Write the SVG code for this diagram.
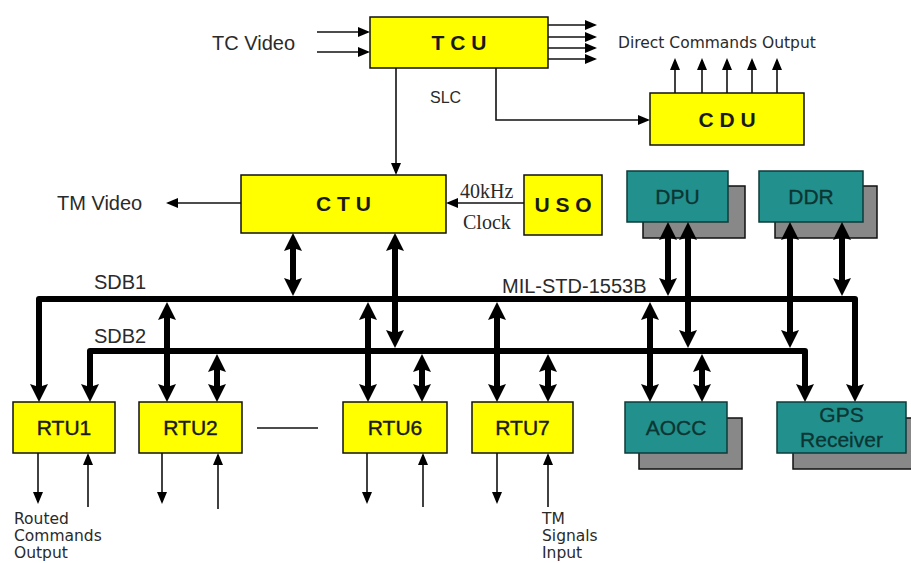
<svg xmlns="http://www.w3.org/2000/svg" width="911" height="563" viewBox="0 0 911 563">
<defs>
<style>
.y{fill:#ffff00;stroke:#111;stroke-width:1.5}
.t{fill:#22908c;stroke:#0d3b3a;stroke-width:1.5}
.s{fill:#888;stroke:#111;stroke-width:1.5}
.bt{font-family:"Liberation Sans",Arial,sans-serif;font-weight:bold;font-size:21px;fill:#1a1a1a;text-anchor:middle}
.rt{font-family:"Liberation Sans",Arial,sans-serif;font-size:21px;fill:#1a1a1a;text-anchor:middle;stroke:#1a1a1a;stroke-width:0.4}
.tt{font-family:"Liberation Sans",Arial,sans-serif;font-size:21px;fill:#0c3533;text-anchor:middle;stroke:#0c3533;stroke-width:0.3}
.lb{font-family:"Liberation Sans",Arial,sans-serif;font-size:20px;fill:#2a2a2a}
.sm{font-family:"DejaVu Sans",Verdana,sans-serif;font-size:15.5px;fill:#2a2a2a}
.sf{font-family:"Liberation Serif","Times New Roman",serif;font-size:20px;fill:#2a2a2a}
.th{fill:none;stroke:#111;stroke-width:1.6}
.hv{fill:none;stroke:#000;stroke-width:6;stroke-linejoin:round}
</style>
<marker id="a" viewBox="0 0 12 10" refX="10" refY="5" markerWidth="12" markerHeight="10" markerUnits="userSpaceOnUse" orient="auto-start-reverse"><path d="M0,0 L12,5 L0,10 z" fill="#000"/></marker>
<marker id="h" viewBox="0 0 18 18" refX="8" refY="9" markerWidth="18" markerHeight="18" markerUnits="userSpaceOnUse" orient="auto-start-reverse"><path d="M0,0 L18,9 L0,18 L3,9 z" fill="#000"/></marker>
</defs>

<g id="tcu"><rect class="y" x="370" y="17" width="178" height="51"/><text class="bt" x="459" y="50">T C U</text></g>
<g id="cdu"><rect class="y" x="650" y="93" width="154" height="52"/><text class="bt" x="727" y="127">C D U</text></g>
<g id="ctu"><rect class="y" x="241" y="175" width="205" height="58"/><text class="bt" x="343.5" y="211">C T U</text></g>
<g id="uso"><rect class="y" x="524" y="175" width="78" height="60"/><text class="bt" x="563" y="212">U S O</text></g>
<g id="dpu"><rect class="s" x="643" y="186" width="102" height="52"/><rect class="t" x="627" y="171" width="101" height="51"/><text class="tt" x="677.5" y="204">DPU</text></g>
<g id="ddr"><rect class="s" x="775" y="186" width="102" height="52"/><rect class="t" x="759" y="171" width="104" height="51"/><text class="tt" x="811" y="204">DDR</text></g>
<g id="rtu1"><rect class="y" x="13" y="402" width="102" height="51"/><text class="rt" x="64" y="435">RTU1</text></g>
<g id="rtu2"><rect class="y" x="139" y="402" width="103" height="51"/><text class="rt" x="190.5" y="435">RTU2</text></g>
<g id="rtu6"><rect class="y" x="343" y="402" width="104" height="51"/><text class="rt" x="395" y="435">RTU6</text></g>
<g id="rtu7"><rect class="y" x="472" y="402" width="101" height="51"/><text class="rt" x="522.5" y="435">RTU7</text></g>
<g id="aocc"><rect class="s" x="639" y="418" width="103" height="51"/><rect class="t" x="625" y="402" width="102" height="51"/><text class="tt" x="676" y="435">AOCC</text></g>
<g id="gps"><rect class="s" x="793" y="418" width="130" height="51"/><rect class="t" x="777" y="402" width="129" height="51"/><text class="tt" x="841.5" y="422">GPS</text><text class="tt" x="841.5" y="447">Receiver</text></g>

<g id="connectors">
<path class="th" d="M317,32 H368" marker-end="url(#a)"/>
<path class="th" d="M317,52 H368" marker-end="url(#a)"/>
<path class="th" d="M548,25 H595" marker-end="url(#a)"/>
<path class="th" d="M548,37 H595" marker-end="url(#a)"/>
<path class="th" d="M548,48 H595" marker-end="url(#a)"/>
<path class="th" d="M548,59 H595" marker-end="url(#a)"/>
<path class="th" d="M675,93 V60" marker-end="url(#a)"/>
<path class="th" d="M702,93 V60" marker-end="url(#a)"/>
<path class="th" d="M727,93 V60" marker-end="url(#a)"/>
<path class="th" d="M752,93 V60" marker-end="url(#a)"/>
<path class="th" d="M777,93 V60" marker-end="url(#a)"/>
<path class="th" d="M396,68 V173" marker-end="url(#a)"/>
<path class="th" d="M496,68 V120 H648" marker-end="url(#a)"/>
<path class="th" d="M241,203 H168" marker-end="url(#a)"/>
<path class="th" d="M524,203 H448" marker-end="url(#a)"/>
<path class="th" d="M38,453 V502" marker-end="url(#a)"/>
<path class="th" d="M162,453 V502" marker-end="url(#a)"/>
<path class="th" d="M367,453 V502" marker-end="url(#a)"/>
<path class="th" d="M497,453 V502" marker-end="url(#a)"/>
<path class="th" d="M88,507 V455" marker-end="url(#a)"/>
<path class="th" d="M218,509 V455" marker-end="url(#a)"/>
<path class="th" d="M423,507 V455" marker-end="url(#a)"/>
<path class="th" d="M548,507 V455" marker-end="url(#a)"/>
<path class="th" d="M257,428 H318"/>

<path class="hv" d="M39,392 V299 H855 V392" marker-start="url(#h)" marker-end="url(#h)"/>
<path class="hv" d="M90,392 V351 H805 V392" marker-start="url(#h)" marker-end="url(#h)"/>
<path class="hv" d="M293,243 V286" marker-start="url(#h)" marker-end="url(#h)"/>
<path class="hv" d="M395,243 V338" marker-start="url(#h)" marker-end="url(#h)"/>
<path class="hv" d="M167,312 V392" marker-start="url(#h)" marker-end="url(#h)"/>
<path class="hv" d="M217,364 V392" marker-start="url(#h)" marker-end="url(#h)"/>
<path class="hv" d="M368,312 V392" marker-start="url(#h)" marker-end="url(#h)"/>
<path class="hv" d="M422,364 V392" marker-start="url(#h)" marker-end="url(#h)"/>
<path class="hv" d="M497,312 V392" marker-start="url(#h)" marker-end="url(#h)"/>
<path class="hv" d="M548,364 V392" marker-start="url(#h)" marker-end="url(#h)"/>
<path class="hv" d="M650,312 V392" marker-start="url(#h)" marker-end="url(#h)"/>
<path class="hv" d="M702,364 V392" marker-start="url(#h)" marker-end="url(#h)"/>
<path class="hv" d="M668,232 V286" marker-start="url(#h)" marker-end="url(#h)"/>
<path class="hv" d="M688,232 V338" marker-start="url(#h)" marker-end="url(#h)"/>
<path class="hv" d="M790,232 V338" marker-start="url(#h)" marker-end="url(#h)"/>
<path class="hv" d="M842,232 V286" marker-start="url(#h)" marker-end="url(#h)"/>
</g>

<g id="labels">
<text class="lb" x="212" y="50">TC Video</text>
<text class="sm" x="618" y="48">Direct Commands Output</text>
<text class="lb" x="430" y="103" style="font-size:16px">SLC</text>
<text class="lb" x="57" y="210">TM Video</text>
<text class="sf" x="460" y="198">40kHz</text>
<text class="sf" x="463" y="229">Clock</text>
<text class="lb" x="94" y="289">SDB1</text>
<text class="lb" x="94" y="343">SDB2</text>
<text class="lb" x="502" y="293">MIL-STD-1553B</text>
<text class="sm" x="14" y="524">Routed</text>
<text class="sm" x="14" y="541">Commands</text>
<text class="sm" x="14" y="558">Output</text>
<text class="sm" x="542" y="524">TM</text>
<text class="sm" x="542" y="541">Signals</text>
<text class="sm" x="542" y="558">Input</text>
</g>
</svg>
